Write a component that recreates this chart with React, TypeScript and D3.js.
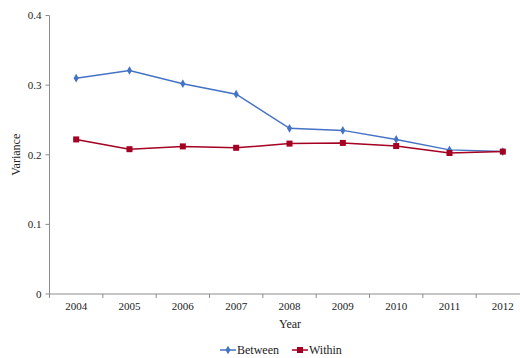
import React from "react";
import * as d3 from "d3";

const years = ["2004", "2005", "2006", "2007", "2008", "2009", "2010", "2011", "2012"];
const between = [0.31, 0.321, 0.302, 0.287, 0.238, 0.235, 0.222, 0.207, 0.2045];
const within = [0.222, 0.208, 0.212, 0.21, 0.216, 0.217, 0.2125, 0.2025, 0.2045];
const yTicks = [0, 0.1, 0.2, 0.3, 0.4];

const BLUE = "#4472C4";
const RED = "#A50021";
const AXIS = "#8c8c8c";
const FONT = "'Liberation Serif', 'Times New Roman', serif";

export default function App() {
  const W = 520, H = 358;
  const left = 49.5, right = 529.5, top = 15.5, bottom = 294;
  const x = d3.scaleBand<string>().domain(years).range([left, right]);
  const y = d3.scaleLinear().domain([0, 0.4]).range([bottom, top]);
  const cx = (yr: string) => (x(yr) as number) + x.bandwidth() / 2;
  const line = d3.line<number>().x((_, i) => cx(years[i])).y((v) => y(v));
  const diamond = d3.symbol().type(d3.symbolDiamond).size(22)() as string;

  return (
    <svg width={W} height={H} style={{ position: "absolute", left: 0, top: 0, background: "#fff" }} fontFamily={FONT}>
      {/* y axis */}
      <line x1={left} x2={left} y1={top} y2={bottom} stroke={AXIS} strokeWidth={1} />
      {yTicks.map((t) => (
        <g key={t}>
          <line x1={left - 4} x2={left} y1={y(t)} y2={y(t)} stroke={AXIS} />
          <text x={left - 8} y={y(t)} dy="0.35em" textAnchor="end" fontSize={11} fill="#222">
            {t === 0 ? "0" : d3.format(".1f")(t)}
          </text>
        </g>
      ))}
      {/* x axis */}
      <line x1={left} x2={right} y1={bottom} y2={bottom} stroke={AXIS} strokeWidth={1} />
      {years.map((yr, i) => (
        <g key={yr}>
          <line x1={x(yr) as number} x2={x(yr) as number} y1={bottom} y2={bottom + 4} stroke={AXIS} />
          <text x={cx(yr)} y={bottom + 16} textAnchor="middle" fontSize={11} fill="#222">{yr}</text>
        </g>
      ))}
      <line x1={right} x2={right} y1={bottom} y2={bottom + 4} stroke={AXIS} />
      <text x={290} y={328} textAnchor="middle" fontSize={12} fill="#222">Year</text>
      <text transform={`translate(20,${(top + bottom) / 2}) rotate(-90)`} textAnchor="middle" fontSize={12} fill="#222">Variance</text>

      {/* series */}
      <path d={line(between) as string} fill="none" stroke={BLUE} strokeWidth={1.5} />
      {between.map((v, i) => (
        <path key={"b" + i} d={diamond} transform={`translate(${cx(years[i])},${y(v)})`} fill={BLUE} />
      ))}
      <path d={line(within) as string} fill="none" stroke={RED} strokeWidth={1.5} />
      {within.map((v, i) => (
        <rect key={"w" + i} x={cx(years[i]) - 3} y={y(v) - 3} width={6} height={6} fill={RED} />
      ))}

      {/* legend */}
      <g>
        <line x1={220} x2={236} y1={350} y2={350} stroke={BLUE} strokeWidth={1.5} />
        <path d={diamond} transform="translate(228,350)" fill={BLUE} />
        <text x={237} y={350} dy="0.35em" fontSize={12} fill="#222">Between</text>
        <line x1={292} x2={308} y1={350} y2={350} stroke={RED} strokeWidth={1.5} />
        <rect x={297} y={347} width={6} height={6} fill={RED} />
        <text x={309} y={350} dy="0.35em" fontSize={12} fill="#222">Within</text>
      </g>
    </svg>
  );
}
